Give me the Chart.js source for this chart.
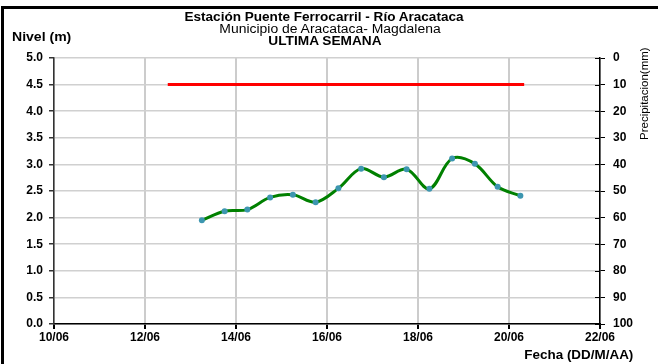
<!DOCTYPE html>
<html>
<head>
<meta charset="utf-8">
<script src="https://cdn.jsdelivr.net/npm/chart.js@4/dist/chart.umd.min.js"></script>
<style>
  html, body { margin:0; padding:0; background:#fff; }
  #wrap { position:relative; width:658px; height:364px; overflow:hidden; font-family:"Liberation Sans", Arial, sans-serif; color:#000; }
  #cv { position:absolute; left:0; top:0; }
  .t { position:absolute; white-space:nowrap; line-height:12px; }
  .c { width:650px; text-align:center; transform-origin:50% 50%; }
  #frame { position:absolute; left:1px; top:6px; width:700px; height:400px; border-left:3px solid #000; border-top:3px solid #000; }
</style>
</head>
<body>
<div id="wrap">
  <canvas id="cv" width="658" height="364"></canvas>
  <div id="frame"></div>
  <div class="t c" style="left:-1px;top:11px;font-weight:bold;font-size:12px;transform:scaleX(1.13);">Estación Puente Ferrocarril - Río Aracataca</div>
  <div class="t c" style="left:5px;top:23px;font-size:12px;transform:scaleX(1.16);">Municipio de Aracataca- Magdalena</div>
  <div class="t c" style="left:0px;top:35px;font-weight:bold;font-size:12px;transform:scaleX(1.14);">ULTIMA SEMANA</div>
  <div class="t" style="left:12px;top:31px;font-weight:bold;font-size:12px;transform-origin:0 50%;transform:scaleX(1.17);">Nivel (m)</div>
  <div class="t" style="left:600px;top:90px;width:88px;text-align:center;font-size:11.5px;transform:rotate(-90deg);">Precipitacion(mm)</div>
  <div class="t" style="right:25px;top:349px;font-weight:bold;font-size:12px;transform-origin:100% 50%;transform:scaleX(1.12);">Fecha (DD/M/AA)</div>
</div>
<script>
// ---- data ----
const levelDates = ["13/06 06:00","13/06 18:00","14/06 06:00","14/06 18:00","15/06 06:00","15/06 18:00","16/06 06:00","16/06 18:00","17/06 06:00","17/06 18:00","18/06 06:00","18/06 18:00","19/06 06:00","19/06 18:00","20/06 06:00"];
const levels = [1.95, 2.12, 2.15, 2.38, 2.43, 2.29, 2.55, 2.92, 2.76, 2.91, 2.54, 3.11, 3.01, 2.58, 2.41];
const thresholdDates = ["12/06 12:00", "20/06 08:00"];
const thresholdLevels = [4.5, 4.5];
const xTickDays = [10, 12, 14, 16, 18, 20, 22];
const month = "06";

function toDay(s) {
  const [d, t] = s.split(" ");
  const day = parseInt(d.split("/")[0], 10);
  const [h, m] = t.split(":").map(Number);
  return day + (h + m / 60) / 24;
}
const pts = (ds, vs) => ds.map((d, i) => ({ x: toDay(d), y: vs[i] }));

const FONT = "'Liberation Sans', Arial, sans-serif";
const tickFont = { family: FONT, size: 12, weight: 'bold' };

// inner tick marks on the right axis (ticks cross the axis line)
const innerTicks = {
  id: 'innerTicks',
  afterDraw(chart) {
    const s = chart.scales.y1;
    const ctx = chart.ctx;
    ctx.save();
    ctx.strokeStyle = '#000';
    ctx.lineWidth = 1;
    s.ticks.forEach(t => {
      const y = Math.round(s.getPixelForValue(t.value)) + 0.5;
      ctx.beginPath();
      ctx.moveTo(s.left - 5, y);
      ctx.lineTo(s.left, y);
      ctx.stroke();
    });
    ctx.restore();
  }
};

new Chart(document.getElementById('cv'), {
  type: 'line',
  data: {
    datasets: [
      {
        data: pts(thresholdDates, thresholdLevels),
        borderColor: '#ff0000', borderWidth: 3, pointRadius: 0, tension: 0, yAxisID: 'y'
      },
      {
        data: pts(levelDates, levels),
        borderColor: '#008000', borderWidth: 3, tension: 0.35,
        pointRadius: 3, pointBackgroundColor: '#3d96b0', pointBorderColor: '#3d96b0', pointBorderWidth: 0,
        yAxisID: 'y'
      }
    ]
  },
  options: {
    responsive: false, animation: false, devicePixelRatio: 1,
    layout: { padding: { top: 58, left: 0, right: 0, bottom: 0 } },
    plugins: { legend: { display: false }, tooltip: { enabled: false }, title: { display: false } },
    scales: {
      x: {
        type: 'linear', min: xTickDays[0], max: xTickDays[xTickDays.length - 1],
        afterBuildTicks: s => { s.ticks = xTickDays.map(v => ({ value: v })); },
        ticks: { callback: v => String(v).padStart(2, '0') + '/' + month, font: tickFont, color: '#000', padding: 1, maxRotation: 0, autoSkip: false },
        grid: { color: '#cccccc', lineWidth: 2, tickLength: 5, tickColor: '#000' },
        border: { color: '#000', width: 1.5 },
        afterFit: s => { s.height = 40; }
      },
      y: {
        position: 'left', min: 0, max: 5,
        ticks: { stepSize: 0.5, callback: v => v.toFixed(1), font: tickFont, color: '#000', padding: 6 },
        grid: { color: '#d0d0d0', lineWidth: 1.5, tickLength: 5, tickColor: '#333' },
        border: { color: '#333', width: 1.5 },
        afterFit: s => { s.width = 54; }
      },
      y1: {
        position: 'right', min: 0, max: 100, reverse: true,
        ticks: { stepSize: 10, font: tickFont, color: '#000', padding: 8 },
        grid: { drawOnChartArea: false, tickLength: 5, tickColor: '#000' },
        border: { color: '#000', width: 1.5 },
        afterFit: s => { s.width = 58; }
      }
    }
  },
  plugins: [innerTicks]
});
</script>
</body>
</html>
